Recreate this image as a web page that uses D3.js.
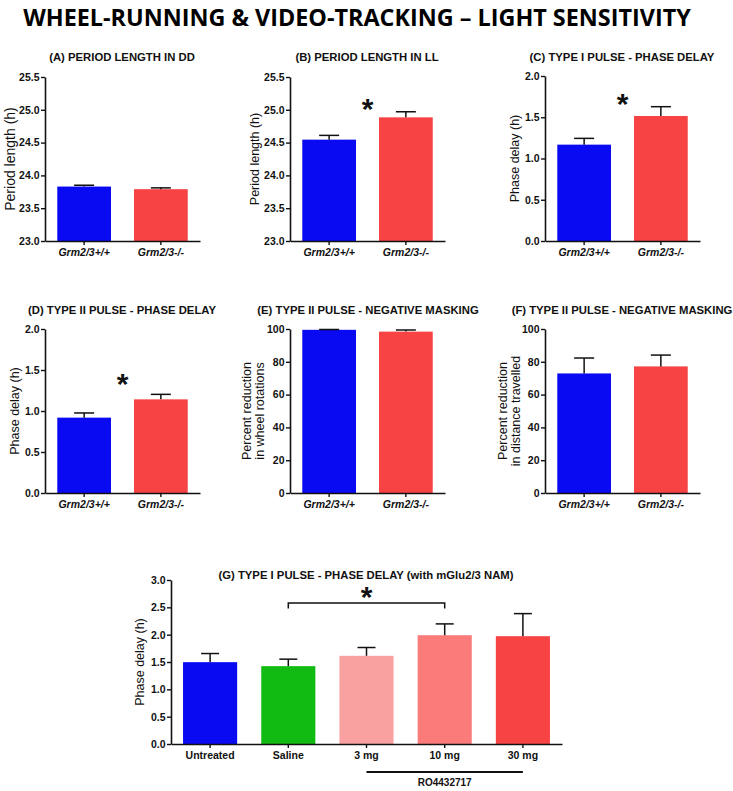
<!DOCTYPE html>
<html><head><meta charset="utf-8">
<script src="https://cdn.jsdelivr.net/npm/d3@7"></script>
<style>
body{margin:0;background:#fff;}
svg{display:block;}
</style></head>
<body>
<svg id="chart" width="733" height="791"></svg>
<script>
// ---------- DATA ----------
const genotypes = ["Grm2/3+/+", "Grm2/3-/-"];
const genoColors = ["#0a0af2", "#f74343"];

const periodDD = [23.83, 23.79];
const periodDDErr = [23.85, 23.81];

const periodLL = [24.545, 24.885];
const periodLLErr = [24.61, 24.97];

const type1Delay = [1.168, 1.515];
const type1DelayErr = [1.244, 1.628];

const type2Delay = [0.919, 1.142];
const type2DelayErr = [0.976, 1.203];

const maskWheel = [99.5, 98.4];
const maskWheelErr = [99.7, 99.4];

const maskDistance = [72.9, 77.2];
const maskDistanceErr = [82.3, 84.1];

const namGroups = ["Untreated", "Saline", "3 mg", "10 mg", "30 mg"];
const namColors = ["#0a0af2", "#12bb12", "#f9a0a0", "#fb7b7b", "#f74343"];
const namDelay = [1.497, 1.424, 1.613, 1.99, 1.972];
const namDelayErr = [1.655, 1.552, 1.765, 2.197, 2.385];

const ticksPeriod = [23.0, 23.5, 24.0, 24.5, 25.0, 25.5];
const ticksDelay2 = [0.0, 0.5, 1.0, 1.5, 2.0];
const ticksPercent = [0, 20, 40, 60, 80, 100];
const ticksDelay3 = [0.0, 0.5, 1.0, 1.5, 2.0, 2.5, 3.0];

// significance star levels (data units)
const starB = 25.12, starC = 1.745, starD = 1.415, starG = 2.82;
const bracketG = {from: "Saline", to: "10 mg", top: 2.58, leg: 2.48};
const roGroups = ["3 mg", "10 mg", "30 mg"];
const roLabel = "RO4432717";

// ---------- DRAW ----------
const svg = d3.select("#chart");
const FONT = "'Liberation Sans', Arial, Helvetica, sans-serif";

// main title: fit naturally into the reference width
const title = svg.append("text")
  .attr("x", 357).attr("y", 26).attr("text-anchor", "middle")
  .style("font-family", "'Open Sans', sans-serif")
  .style("font-weight", 700).style("font-size", "26px")
  .text("WHEEL-RUNNING & VIDEO-TRACKING \u2013 LIGHT SENSITIVITY");
const tw = title.node().getComputedTextLength();
if (tw > 668) title.style("font-size", (26 * 668 / tw).toFixed(2) + "px");

function panel(o) {
  const g = svg.append("g");
  const x = d3.scaleBand().domain(o.cats).range([o.ax, o.ax + o.w])
    .paddingInner(o.pi || 0.3).paddingOuter(o.po || 0.16);
  const y = d3.scaleLinear().domain(o.domain).range([o.yb, o.yt]);

  // bars
  g.selectAll("rect.bar").data(o.cats).enter().append("rect")
    .attr("x", d => x(d)).attr("width", x.bandwidth())
    .attr("y", (d, i) => y(o.vals[i]))
    .attr("height", (d, i) => y(o.domain[0]) - y(o.vals[i]))
    .attr("fill", (d, i) => o.colors[i]);

  // error bars
  const cap = o.cap || 20;
  o.cats.forEach((d, i) => {
    const cx = x(d) + x.bandwidth() / 2;
    g.append("line").attr("x1", cx).attr("x2", cx)
      .attr("y1", y(o.vals[i])).attr("y2", y(o.errs[i]))
      .attr("stroke", "#111").attr("stroke-width", 1.5);
    g.append("line").attr("x1", cx - cap / 2).attr("x2", cx + cap / 2)
      .attr("y1", y(o.errs[i])).attr("y2", y(o.errs[i]))
      .attr("stroke", "#111").attr("stroke-width", 1.5);
  });

  // y axis
  const ya = g.append("g").attr("transform", `translate(${o.ax},0)`)
    .call(d3.axisLeft(y).tickValues(o.ticks).tickFormat(o.fmt).tickSize(4).tickSizeOuter(0).tickPadding(1.5));
  // x axis
  const xa = g.append("g").attr("transform", `translate(0,${o.yb})`)
    .call(d3.axisBottom(x).tickSize(4).tickSizeOuter(0).tickPadding(4));
  [ya, xa].forEach(a => {
    a.select(".domain").attr("stroke", "#111").attr("stroke-width", 1.6);
    a.selectAll(".tick line").attr("stroke", "#111").attr("stroke-width", 1.4);
    a.selectAll("text").attr("fill", "#111")
      .style("font-family", FONT).style("font-weight", 700).style("font-size", "10.5px");
  });
  xa.selectAll("text").style("font-style", o.italic ? "italic" : "normal").style("font-size", "10.5px");

  // panel title
  g.append("text").attr("x", o.tx).attr("y", o.ty).attr("text-anchor", "middle")
    .style("font-family", FONT).style("font-weight", 700).style("font-size", "11.3px")
    .attr("fill", "#111").text(o.title);

  // y label (one or two lines)
  const mid = (o.yt + o.yb) / 2;
  o.ylabel.forEach((t, i) => {
    g.append("text")
      .attr("transform", `translate(${o.lx[i]},${mid}) rotate(-90)`)
      .attr("text-anchor", "middle").attr("dy", "0.35em")
      .style("font-family", FONT).style("font-size", (o.lfs || 12.5) + "px")
      .attr("fill", "#111").text(t);
  });

  // star
  if (o.star !== undefined) {
    const sx = (x(o.cats[0]) + x.bandwidth() + x(o.cats[1])) / 2;
    g.append("text").attr("x", sx).attr("y", y(o.star) + 17).attr("text-anchor", "middle")
      .style("font-family", FONT).style("font-weight", 700).style("font-size", "30px")
      .attr("fill", "#111").text("*");
  }
  return {g, x, y};
}

panel({cats: genotypes, colors: genoColors, vals: periodDD, errs: periodDDErr,
  domain: [23, 25.5], ticks: ticksPeriod, fmt: d3.format(".1f"),
  ax: 45, w: 155, yt: 77, yb: 241, italic: true,
  title: "(A) PERIOD LENGTH IN DD", tx: 122, ty: 61,
  ylabel: ["Period length (h)"], lx: [10], lfs: 14});

panel({cats: genotypes, colors: genoColors, vals: periodLL, errs: periodLLErr,
  domain: [23, 25.5], ticks: ticksPeriod, fmt: d3.format(".1f"),
  ax: 290, w: 155, yt: 77, yb: 241, italic: true,
  title: "(B) PERIOD LENGTH IN LL", tx: 367, ty: 61,
  ylabel: ["Period length (h)"], lx: [255], star: starB});

panel({cats: genotypes, colors: genoColors, vals: type1Delay, errs: type1DelayErr,
  domain: [0, 2], ticks: ticksDelay2, fmt: d3.format(".1f"),
  ax: 545, w: 155, yt: 76, yb: 241, italic: true,
  title: "(C) TYPE I PULSE - PHASE DELAY", tx: 622, ty: 61,
  ylabel: ["Phase delay (h)"], lx: [515], star: starC});

panel({cats: genotypes, colors: genoColors, vals: type2Delay, errs: type2DelayErr,
  domain: [0, 2], ticks: ticksDelay2, fmt: d3.format(".1f"),
  ax: 45, w: 155, yt: 329, yb: 493, italic: true,
  title: "(D) TYPE II PULSE - PHASE DELAY", tx: 122, ty: 314,
  ylabel: ["Phase delay (h)"], lx: [15], star: starD});

panel({cats: genotypes, colors: genoColors, vals: maskWheel, errs: maskWheelErr,
  domain: [0, 100], ticks: ticksPercent, fmt: d3.format("d"),
  ax: 290, w: 155, yt: 329, yb: 493, italic: true,
  title: "(E) TYPE II PULSE - NEGATIVE MASKING", tx: 368, ty: 314,
  ylabel: ["Percent reduction", "in wheel rotations"], lx: [247, 260]});

panel({cats: genotypes, colors: genoColors, vals: maskDistance, errs: maskDistanceErr,
  domain: [0, 100], ticks: ticksPercent, fmt: d3.format("d"),
  ax: 545, w: 155, yt: 329, yb: 493, italic: true,
  title: "(F) TYPE II PULSE - NEGATIVE MASKING", tx: 622, ty: 314,
  ylabel: ["Percent reduction", "in distance travelled"], lx: [503, 516]});

const G = panel({cats: namGroups, colors: namColors, vals: namDelay, errs: namDelayErr,
  domain: [0, 3], ticks: ticksDelay3, fmt: d3.format(".1f"),
  ax: 171, w: 391, yt: 580, yb: 744, italic: false, pi: 0.308, po: 0.154, cap: 18,
  title: "(G) TYPE I PULSE - PHASE DELAY (with mGlu2/3 NAM)", tx: 366, ty: 579,
  ylabel: ["Phase delay (h)"], lx: [140]});

// bracket + star in G
const cxG = d => G.x(d) + G.x.bandwidth() / 2;
G.g.append("path")
  .attr("d", `M${cxG(bracketG.from)},${G.y(bracketG.leg)}V${G.y(bracketG.top)}H${cxG(bracketG.to)}V${G.y(bracketG.leg)}`)
  .attr("fill", "none").attr("stroke", "#111").attr("stroke-width", 1.5);
G.g.append("text").attr("x", (cxG(bracketG.from) + cxG(bracketG.to)) / 2).attr("y", G.y(starG) + 17)
  .attr("text-anchor", "middle")
  .style("font-family", FONT).style("font-weight", 700).style("font-size", "30px")
  .attr("fill", "#111").text("*");

// RO compound line
G.g.append("line")
  .attr("x1", cxG(roGroups[0])).attr("x2", cxG(roGroups[roGroups.length - 1]))
  .attr("y1", 772).attr("y2", 772).attr("stroke", "#111").attr("stroke-width", 2);
G.g.append("text").attr("x", cxG(roGroups[1])).attr("y", 786).attr("text-anchor", "middle")
  .style("font-family", FONT).style("font-weight", 700).style("font-size", "10px")
  .attr("fill", "#111").text(roLabel);
</script>
</body></html>
